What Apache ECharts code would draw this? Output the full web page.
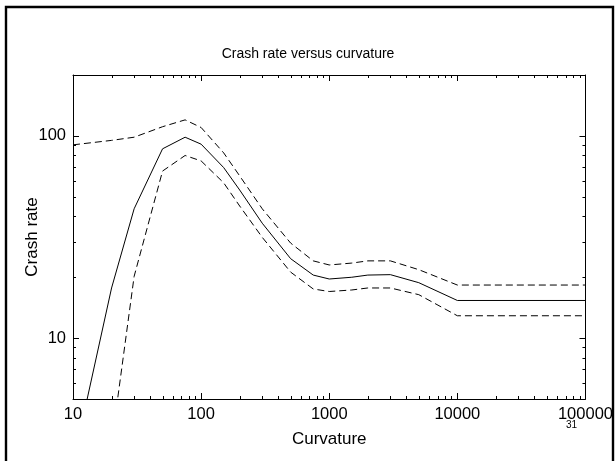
<!DOCTYPE html>
<html>
<head>
<meta charset="utf-8">
<script src="https://cdn.jsdelivr.net/npm/echarts@6/dist/echarts.min.js"></script>
<style>html,body{margin:0;padding:0;background:#fff}#c{width:616px;height:461px}</style>
</head>
<body>
<div id="c"></div>
<script>
// Curvature values (x)
const curvature = [10, 20, 30, 50, 75, 100, 150, 200, 300, 500, 750, 1000, 1500, 2000, 3000, 5000, 10000, 100000];
// Estimated crash rate (solid)
const crashRate = [2.4, 17.7, 43.6, 86.3, 98.5, 91, 69.7, 54, 37, 24.7, 20.5, 19.6, 20.0, 20.5, 20.6, 18.8, 15.35, 15.35];
// Upper confidence bound (dashed)
const upperBound = [90.3, 95, 98.5, 111, 120, 110, 82.4, 63.4, 43.6, 29.5, 24.1, 23.0, 23.5, 24.1, 24.1, 21.8, 18.3, 18.3];
// Lower confidence bound (dashed)
const lowerBound = [0.5, 3.0, 20.2, 67, 80, 75.2, 58.6, 45, 31.5, 21.2, 17.5, 17.0, 17.3, 17.7, 17.7, 16.4, 12.9, 12.9];

// Tick labels
const xTickLabels = ['10', '100', '1000', '10000', '100000'];
const yTickLabels = ['10', '100'];
// Major / minor tick positions
const xMajorTicks = [100, 1000, 10000];
const yMajorTicks = [10, 100];
const xMinorTicks = [20,30,40,50,60,70,80,90, 200,300,400,500,600,700,800,900, 2000,3000,4000,5000,6000,7000,8000,9000, 20000,30000,40000,50000,60000,70000,80000,90000];
const yMinorTicks = [6,7,8,9, 20,30,40,50,60,70,80,90];

const FONT = 'Liberation Sans, Arial, sans-serif';
const chart = echarts.init(document.getElementById('c'), null, {renderer: 'canvas'});

function fmtLabel(list) {
  return function (v) {
    const s = String(Math.round(v));
    return list.indexOf(s) >= 0 ? s : '';
  };
}
function axisBase() {
  return {
    type: 'log', logBase: 10,
    axisLine: {show: true, lineStyle: {color: '#000', width: 1}},
    axisTick: {show: false},
    splitLine: {show: false},
    minorTick: {show: false}
  };
}
const toXY = arr => curvature.map((c, i) => [c, arr[i]]);

function xTickSeries(values, len) {
  return {type: 'custom', clip: false, silent: true, z: 10,
    encode: {x: 0, y: 1},
    data: values.map(v => [v, 10]),
    renderItem: function (params, api) {
      const cs = params.coordSys;
      const p = api.coord([api.value(0), api.value(1)]);
      const x = Math.round(p[0]) + 0.5;
      const st = {stroke: '#000', lineWidth: 1};
      return {type: 'group', children: [
        {type: 'line', shape: {x1: x, y1: cs.y + cs.height, x2: x, y2: cs.y + cs.height - len}, style: st},
        {type: 'line', shape: {x1: x, y1: cs.y, x2: x, y2: cs.y + len}, style: st}
      ]};
    }};
}
function yTickSeries(values, len) {
  return {type: 'custom', clip: false, silent: true, z: 10,
    encode: {x: 0, y: 1},
    data: values.map(v => [100, v]),
    renderItem: function (params, api) {
      const cs = params.coordSys;
      const p = api.coord([api.value(0), api.value(1)]);
      const y = Math.round(p[1]) + 0.5;
      const st = {stroke: '#000', lineWidth: 1};
      return {type: 'group', children: [
        {type: 'line', shape: {x1: cs.x, y1: y, x2: cs.x + len, y2: y}, style: st},
        {type: 'line', shape: {x1: cs.x + cs.width, y1: y, x2: cs.x + cs.width - len, y2: y}, style: st}
      ]};
    }};
}

chart.setOption({
  animation: false,
  backgroundColor: '#fff',
  title: {
    text: 'Crash rate versus curvature', left: 'center', top: 42,
    textStyle: {fontFamily: FONT, fontSize: 14, fontWeight: 'normal', color: '#000'}
  },
  grid: {left: 73, top: 75, right: 25, bottom: 62},
  xAxis: [
    Object.assign(axisBase(), {
      position: 'bottom', min: 10, max: 100000,
      name: 'Curvature', nameLocation: 'middle', nameGap: 32, nameMoveOverlap: false,
      nameTextStyle: {fontFamily: FONT, fontSize: 17, color: '#000'},
      axisLabel: {show: true, color: '#000', fontFamily: FONT, fontSize: 16.5, margin: 7, formatter: fmtLabel(xTickLabels)}
    }),
    Object.assign(axisBase(), {
      position: 'top', min: 10, max: 100000, axisLabel: {show: false}
    })
  ],
  yAxis: [
    Object.assign(axisBase(), {
      position: 'left', min: 5, max: 200,
      name: 'Crash rate', nameLocation: 'middle', nameGap: 32, nameMoveOverlap: false,
      nameTextStyle: {fontFamily: FONT, fontSize: 17, color: '#000'},
      axisLabel: {show: true, color: '#000', fontFamily: FONT, fontSize: 16.5, margin: 7,
        showMinLabel: false, showMaxLabel: false, formatter: fmtLabel(yTickLabels)}
    }),
    Object.assign(axisBase(), {
      position: 'right', min: 5, max: 200, axisLabel: {show: false}
    })
  ],
  series: [
    {type: 'line', data: toXY(crashRate), symbol: 'none', clip: true,
      lineStyle: {color: '#000', width: 1}},
    {type: 'line', data: toXY(upperBound), symbol: 'none', clip: true,
      lineStyle: {color: '#000', width: 1, type: [7, 4]}},
    {type: 'line', data: toXY(lowerBound), symbol: 'none', clip: true,
      lineStyle: {color: '#000', width: 1, type: [7, 4]}},
    xTickSeries(xMinorTicks, 3),
    xTickSeries(xMajorTicks, 6),
    yTickSeries(yMinorTicks, 3),
    yTickSeries(yMajorTicks, 6)
  ],
  graphic: [
    {type: 'text', left: 566, top: 420, z: 50,
      style: {text: '31', fontFamily: FONT, fontSize: 10, fill: '#000'}},
    {type: 'rect', z: 100, silent: true, shape: {x: 614, y: 0, width: 4, height: 461}, style: {fill: '#fff'}},
    {type: 'rect', z: 101, silent: true, shape: {x: 6, y: 7, width: 607, height: 470},
      style: {fill: 'none', stroke: '#000', lineWidth: 2.4}}
  ]
});
</script>
</body>
</html>
